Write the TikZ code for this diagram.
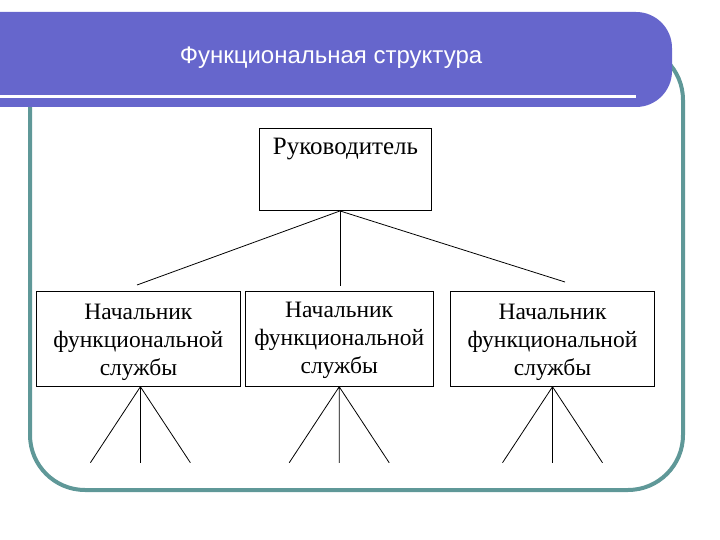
\documentclass[tikz,border=0pt]{standalone}
\usepackage{fontspec}
\setmainfont{Liberation Serif}
\newfontfamily\headfont{Liberation Sans}
\usetikzlibrary{positioning}
\definecolor{slideblue}{HTML}{6666CC}
\definecolor{slideteal}{HTML}{5F9898}

\begin{document}
\begin{tikzpicture}[x=1pt,y=-1pt,
 head/.style={draw,line width=0.9pt,minimum width=172pt,minimum height=82pt,inner sep=0pt},
 dept/.style={draw,line width=0.9pt,minimum height=95pt,align=center,inner sep=0pt,font=\fontsize{23.5}{28}\selectfont},
 link/.style={line width=0.8pt}]
\useasboundingbox (0,0) rectangle (720,540);
\draw[slideteal,line width=4pt,rounded corners=55pt] (30,45) rectangle (683,490);
\fill[slideblue] (0,12) -- (636,12) arc[start angle=-90,end angle=0,radius=36] -- (672,71) arc[start angle=0,end angle=90,radius=36] -- (0,107) -- cycle;
\draw[white,line width=2.5pt] (0,96.5) -- (636,96.5);
\node[anchor=base,text=white,font=\headfont\fontsize{24}{28}\selectfont] (title) at (331,63.3) {Функциональная структура};

\node[head,label={[anchor=base,yshift=-26.7pt,font=\fontsize{25}{30}\selectfont]north:Руководитель}] (chief) at (345.5,169.5) {};

\node[dept,minimum width=204pt] (s1) at (138.4,338.8) {\rule{0pt}{22pt}Начальник\\функциональной\\службы};
\node[dept,minimum width=188pt] (s2) at (339.2,338.8) {\rule{0pt}{18pt}Начальник\\функциональной\\службы};
\node[dept,minimum width=203.6pt] (s3) at (552.5,338.8) {\rule{0pt}{22pt}Начальник\\функциональной\\службы};

\coordinate (l1) at (137,285);
\coordinate (l2) at (340,286);
\coordinate (l3) at (565,282);
\draw[link] ([xshift=-5.5pt]chief.south) -- (l1);
\draw[link] ([xshift=-5.5pt]chief.south) -- (l2);
\draw[link] ([xshift=-5.5pt]chief.south) -- (l3);

\draw[link] ([xshift=2pt]s1.south) -- ++(-50,76) ([xshift=2pt]s1.south) -- ++(0,76) ([xshift=2pt]s1.south) -- ++(50,76);
\draw[link] (s2.south) -- ++(-50,76) (s2.south) -- ++(0,76) (s2.south) -- ++(50,76);
\draw[link] (s3.south) -- ++(-50,76) (s3.south) -- ++(0,76) (s3.south) -- ++(50,76);
\end{tikzpicture}
\end{document}
